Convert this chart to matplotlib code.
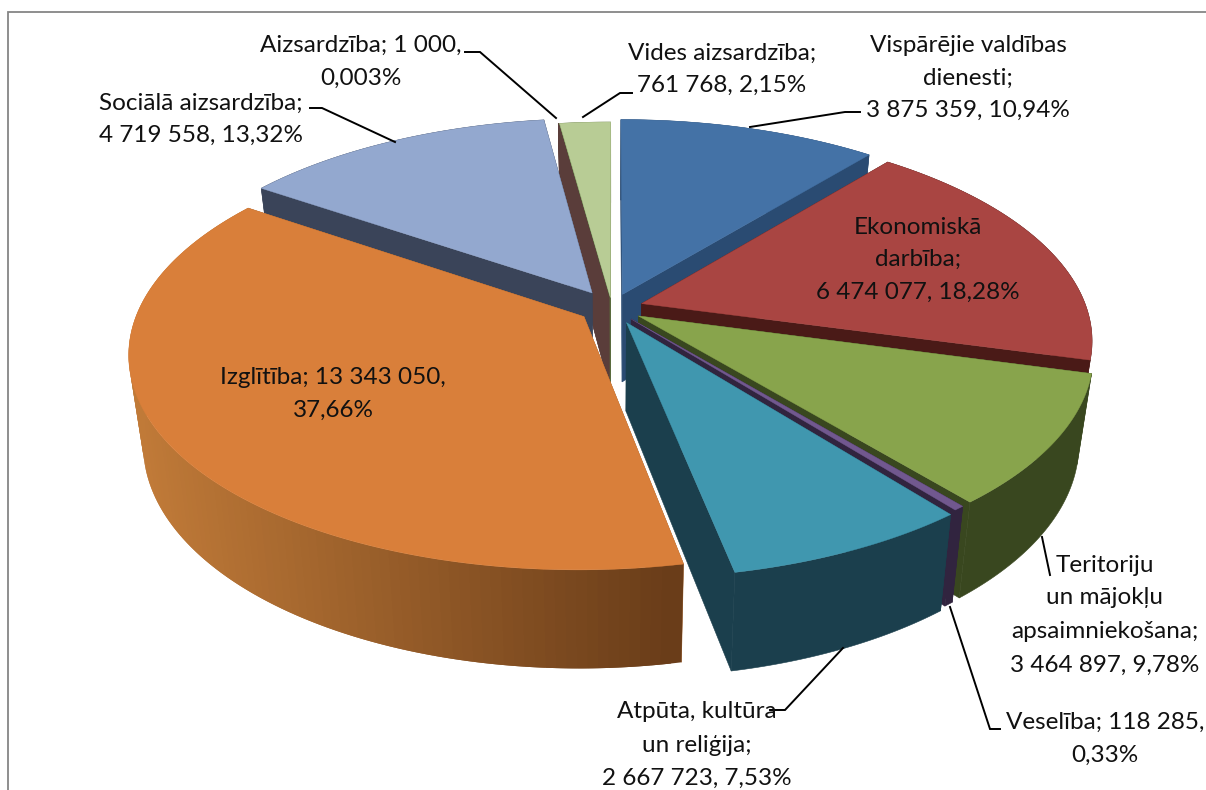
import numpy as np
import matplotlib
matplotlib.use("Agg")
import matplotlib.pyplot as plt
from matplotlib.patches import Polygon

categories = ["Vispārējie valdības dienesti", "Ekonomiskā darbība", "Teritoriju un mājokļu apsaimniekošana",
              "Veselība", "Atpūta, kultūra un reliģija", "Izglītība", "Sociālā aizsardzība", "Aizsardzība",
              "Vides aizsardzība"]
values = [3875359, 6474077, 3464897, 118285, 2667723, 13343050, 4719558, 1000, 761768]
explode = [0.07, 0.07, 0.07, 0.068, 0.076, 0.075, 0.086, 0.05, 0.05]
top_colors = ["#4472A6", "#A94542", "#88A44C", "#71588F", "#4097AF", "#D97F3A", "#93A8CF", "#5A3D3A", "#B8CC95"]
wall_colors = ["#2A4B72", "#4A1A17", "#39471F", "#31243F", "#1B3F4D", "#A0602B", "#3A4459", "#5A3D3A", "#5A6B3F"]
draw_order = [8, 7, 0, 6, 1, 5, 2, 3, 4]

label_lines = [
    (968, [45, 78, 110], ["Vispārējie valdības", "dienesti;", "3 875 359, 10,94%"]),
    (722, [53, 85], ["Vides aizsardzība;", "761 768, 2,15%"]),
    (361, [45, 78], ["Aizsardzība; 1 000,", "0,003%"]),
    (201, [103, 135], ["Sociālā aizsardzība;", "4 719 558, 13,32%"]),
    (918, [227, 259, 292], ["Ekonomiskā", "darbība;", "6 474 077, 18,28%"]),
    (333, [378, 410], ["Izglītība; 13 343 050,", "37,66%"]),
    (1105, [566, 598, 631, 665], ["Teritoriju", "un mājokļu", "apsaimniekošana;", "3 464 897, 9,78%"]),
    (1105, [722, 755], ["Veselība; 118 285,", "0,33%"]),
    (697, [712, 745, 778], ["Atpūta, kultūra", "un reliģija;", "2 667 723, 7,53%"]),
]
leaders = [
    [(750, 127), (845, 112), (860, 112)],
    [(583, 117), (620, 93), (632, 93)],
    [(556, 118), (480, 52), (465, 52)],
    [(395, 142), (322, 108), (310, 108)],
    [(1042, 537), (1050, 575)],
    [(950, 607), (990, 729), (1000, 729)],
    [(843, 648), (785, 710), (770, 710)],
]

CX, CY, RX, RY, PERSP, H, SHRINK = 612, 308, 445, 208, 0.166, 88, 0.03


def project(u, v, z):
    w = 1 - PERSP * v
    s = 1 - SHRINK * z
    return CX + RX * u / w * s, CY + (RY * v / w) * s + H * z / w


def hex_rgb(c):
    return np.array(matplotlib.colors.to_rgb(c))


fig = plt.figure(figsize=(12.06, 7.9), dpi=100)
ax = fig.add_axes([0, 0, 1, 1])
ax.set_xlim(0, 1206)
ax.set_ylim(790, 0)
ax.axis("off")

ax.plot([8, 8, 1206], [790, 12, 12], color="#868686", lw=1.3, zorder=1, solid_joinstyle="miter")

shares = np.array(values, dtype=float) / np.sum(values)
edges = np.concatenate([[0], np.cumsum(shares)]) * 2 * np.pi
zo = 2.0


def add_poly(pts, color, lw=0.4):
    global zo
    zo += 0.001
    ax.add_patch(Polygon(pts, closed=True, facecolor=color, edgecolor=color, lw=lw, zorder=zo))


for i in draw_order:
    a0, a1 = edges[i], edges[i + 1]
    mid = (a0 + a1) / 2
    du, dv = explode[i] * np.sin(mid), -explode[i] * np.cos(mid)
    n = max(2, int((a1 - a0) / 0.01))
    th = np.linspace(a0, a1, n)
    us, vs = du + np.sin(th), dv - np.cos(th)

    # cut faces
    for uu, vv in ((us[0], vs[0]), (us[-1], vs[-1])):
        add_poly([project(du, dv, 0), project(uu, vv, 0), project(uu, vv, 1), project(du, dv, 1)], wall_colors[i])

    # outer wall
    if i == 5:
        step = 2
        for k in range(0, n - 1, step):
            e = min(k + step + 2, n - 1)
            pts = ([project(us[j], vs[j], 0) for j in range(k, e + 1)] +
                   [project(us[j], vs[j], 1) for j in range(e, k - 1, -1)])
            t = np.clip((pts[0][0] - 140) / (672 - 140), 0, 1)
            col = hex_rgb("#C07A38") * (1 - t) + hex_rgb("#6A3D19") * t
            add_poly(pts, col, lw=0)
    else:
        pts = ([project(a, b, 0) for a, b in zip(us, vs)] +
               [project(a, b, 1) for a, b in zip(us[::-1], vs[::-1])])
        add_poly(pts, wall_colors[i])

    # top
    top = [project(du, dv, 0)] + [project(a, b, 0) for a, b in zip(us, vs)]
    add_poly(top, top_colors[i], lw=0.3)

for path in leaders:
    xs, ys = zip(*path)
    ax.plot(xs, ys, color="black", lw=1.4, zorder=5, solid_joinstyle="miter")

for cx, ys, lines in label_lines:
    for y, line in zip(ys, lines):
        ax.text(cx, y, line, ha="center", va="center", family="Lato", fontsize=17.5, color="#111111", zorder=6)

fig.savefig("out.png", dpi=100)
